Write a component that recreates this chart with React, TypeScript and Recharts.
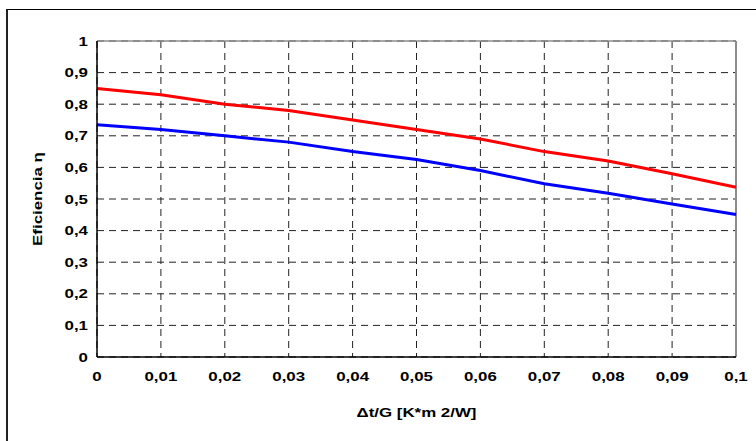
import { CartesianGrid, Line, LineChart, ReferenceLine, XAxis, YAxis } from 'recharts'

const dtOverG = [0, 0.01, 0.02, 0.03, 0.04, 0.05, 0.06, 0.07, 0.08, 0.09, 0.1]
const redEff = [0.85, 0.83, 0.8, 0.78, 0.75, 0.72, 0.69, 0.65, 0.62, 0.58, 0.537]
const blueEff = [0.735, 0.72, 0.7, 0.68, 0.65, 0.625, 0.59, 0.548, 0.518, 0.484, 0.451]
const xTicks = [0, 0.01, 0.02, 0.03, 0.04, 0.05, 0.06, 0.07, 0.08, 0.09, 0.1]
const yTicks = [0, 0.1, 0.2, 0.3, 0.4, 0.5, 0.6, 0.7, 0.8, 0.9, 1]

const data = dtOverG.map((x, i) => ({ x, red: redEff[i], blue: blueEff[i] }))

// excel draws its bold arial quite wide, so text gets stretched along its own direction
const FONT = 'Arial, "Liberation Sans", sans-serif'
const STRETCH = 1.3
const TXT = { fontSize: 13, fontWeight: 700, fontFamily: FONT }
const comma = (v: number) => String(v).replace('.', ',')

const XTick = (props: any) => {
  const { x, y, payload } = props
  return (
    <g transform={`translate(${x},${y})`}>
      <text transform={`scale(${STRETCH},1)`} textAnchor="middle" dy="0.66em" style={TXT} fill="#000">
        {comma(payload.value)}
      </text>
    </g>
  )
}

const YTick = (props: any) => {
  const { x, y, payload } = props
  return (
    <g transform={`translate(${x},${y})`}>
      <text transform={`scale(${STRETCH},1)`} textAnchor="end" dy="0.36em" style={TXT} fill="#000">
        {comma(payload.value)}
      </text>
    </g>
  )
}

const YLabel = (props: any) => {
  const vb = props.viewBox
  const cx = vb.x + 37
  const cy = vb.y + vb.height / 2
  return (
    <g transform={`translate(${cx},${cy}) rotate(-90) scale(${STRETCH},1)`}>
      <text textAnchor="middle" dy="0.36em" style={TXT} fill="#000">
        Eficiencia η
      </text>
    </g>
  )
}

const XLabel = (props: any) => {
  const vb = props.viewBox
  return (
    <g transform={`translate(${vb.x + vb.width / 2},${vb.y + 55}) scale(${STRETCH},1)`}>
      <text textAnchor="middle" dy="0.36em" style={TXT} fill="#000">
        Δt/G [K*m 2/W]
      </text>
    </g>
  )
}

export default function App() {
  return (
    <div style={{ position: 'absolute', left: 0, top: 0, width: 756, height: 441, background: '#fff' }}>
      <div
        style={{
          position: 'absolute',
          left: 6,
          top: 9,
          width: 748,
          height: 432,
          borderLeft: '2px solid #222',
          borderTop: '1px solid #000',
        }}
      />
      <div style={{ position: 'absolute', left: 0, top: 0 }}>
        <LineChart width={756} height={441} data={data} margin={{ top: 41, right: 20, left: 0, bottom: 0 }}>
          <CartesianGrid stroke="#222" strokeDasharray="7 5" />
          <ReferenceLine y={1} stroke="#8c8c8c" strokeWidth={1.5} />
          <ReferenceLine x={0.1} stroke="#8c8c8c" strokeWidth={2} />
          <XAxis
            type="number"
            dataKey="x"
            domain={[0, 0.1]}
            ticks={xTicks}
            tick={<XTick />}
            tickLine={false}
            tickSize={0}
            tickMargin={15}
            height={84}
            axisLine={{ stroke: '#000', strokeWidth: 1.5 }}
            label={{ content: XLabel }}
            interval={0}
          />
          <YAxis
            type="number"
            domain={[0, 1]}
            ticks={yTicks}
            tick={<YTick />}
            tickLine={false}
            tickSize={0}
            tickMargin={9}
            width={97}
            axisLine={{ stroke: '#000', strokeWidth: 1.5 }}
            label={{ content: YLabel }}
            interval={0}
          />
          <Line type="linear" dataKey="red" stroke="#ff0000" strokeWidth={3} dot={false} isAnimationActive={false} />
          <Line type="linear" dataKey="blue" stroke="#0000ff" strokeWidth={3} dot={false} isAnimationActive={false} />
        </LineChart>
      </div>
    </div>
  )
}
